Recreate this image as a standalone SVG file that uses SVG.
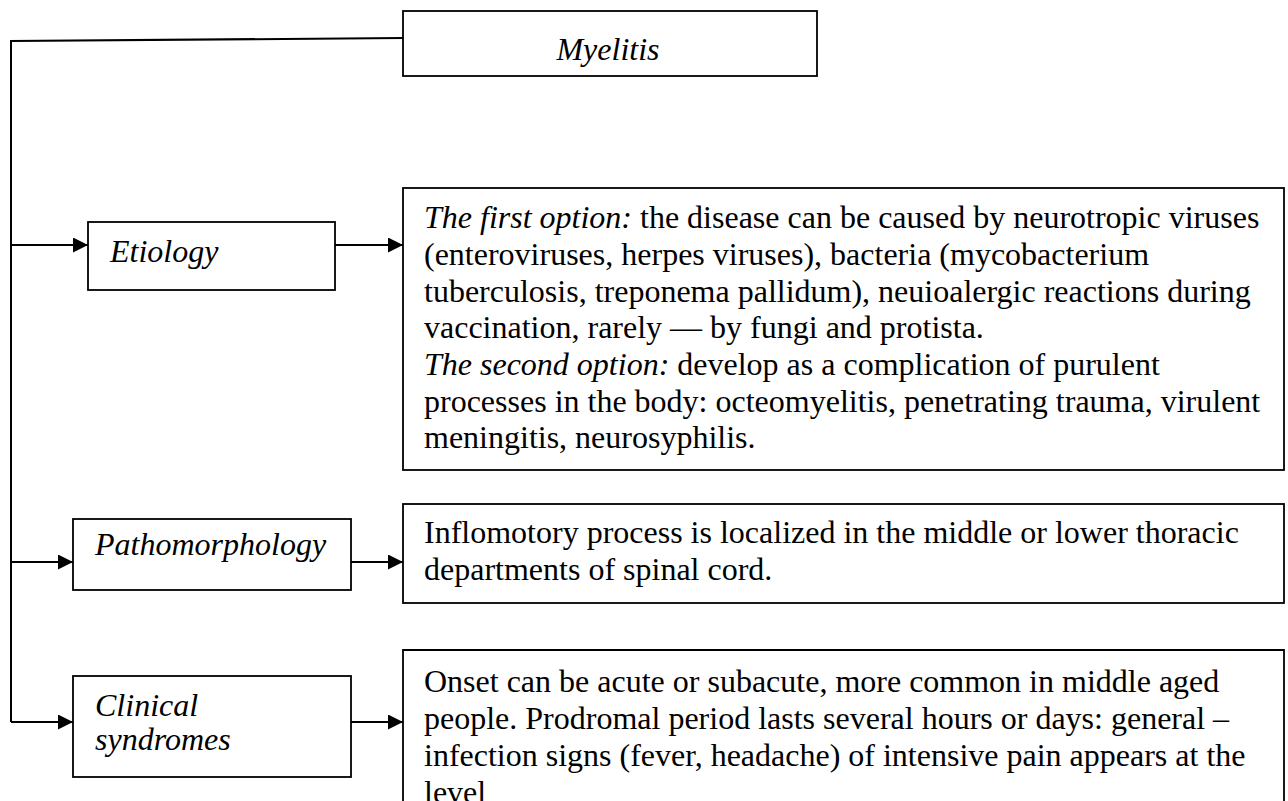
<svg xmlns="http://www.w3.org/2000/svg" width="1288" height="801" viewBox="0 0 1288 801">
  <style>
    .box { fill: #ffffff; stroke: #000000; stroke-width: 1.8; }
    .wire { fill: none; stroke: #000000; stroke-width: 2; }
    .t { font-family: "Liberation Serif", "Times New Roman", serif; font-size: 32px; fill: #000000; }
    .i { font-style: italic; }
  </style>
  <defs>
    <marker id="arrow" markerUnits="userSpaceOnUse" markerWidth="16" markerHeight="15" refX="15" refY="7.5" orient="auto">
      <path d="M0,0 L15,7.5 L0,15 Z" fill="#000000"/>
    </marker>
  </defs>

  <rect width="1288" height="801" fill="#ffffff"/>

  <!-- connectors: trunk from the root down the left margin, branches into each category and its description -->
  <g id="connectors">
    <path class="wire" d="M403,38 L11,41 L11,722"/>
    <line class="wire" x1="11" y1="245" x2="88" y2="245" marker-end="url(#arrow)"/>
    <line class="wire" x1="11" y1="562" x2="73" y2="562" marker-end="url(#arrow)"/>
    <line class="wire" x1="11" y1="722" x2="73" y2="722" marker-end="url(#arrow)"/>
    <line class="wire" x1="335" y1="245" x2="403" y2="245" marker-end="url(#arrow)"/>
    <line class="wire" x1="351" y1="562" x2="403" y2="562" marker-end="url(#arrow)"/>
    <line class="wire" x1="351" y1="722" x2="403" y2="722" marker-end="url(#arrow)"/>
  </g>

  <!-- root -->
  <g id="myelitis">
    <rect class="box" x="403" y="11" width="414" height="65"/>
    <text class="t i" x="608" y="60" text-anchor="middle">Myelitis</text>
  </g>

  <!-- categories -->
  <g id="etiology">
    <rect class="box" x="88" y="222" width="247" height="68"/>
    <text class="t i" x="110" y="262">Etiology</text>
  </g>

  <g id="pathomorphology">
    <rect class="box" x="73" y="519" width="278" height="71"/>
    <text class="t i" x="95" y="555">Pathomorphology</text>
  </g>

  <g id="clinical-syndromes">
    <rect class="box" x="73" y="676" width="278" height="101"/>
    <text class="t i" x="95" y="716">Clinical</text>
    <text class="t i" x="95" y="750">syndromes</text>
  </g>

  <!-- descriptions -->
  <g id="etiology-text">
    <rect class="box" x="403" y="188" width="881" height="282"/>
    <text class="t" x="424" y="228"><tspan class="i">The first option:</tspan> the disease can be caused by neurotropic viruses</text>
    <text class="t" x="424" y="265">(enteroviruses, herpes viruses), bacteria (mycobacterium</text>
    <text class="t" x="424" y="302">tuberculosis, treponema pallidum), neuioalergic reactions during</text>
    <text class="t" x="424" y="338">vaccination, rarely — by fungi and protista.</text>
    <text class="t" x="424" y="375"><tspan class="i">The second option:</tspan> develop as a complication of purulent</text>
    <text class="t" x="424" y="412">processes in the body: octeomyelitis, penetrating trauma, virulent</text>
    <text class="t" x="424" y="448">meningitis, neurosyphilis.</text>
  </g>

  <g id="pathomorphology-text">
    <rect class="box" x="403" y="504" width="881" height="99"/>
    <text class="t" x="424" y="543">Inflomotory process is localized in the middle or lower thoracic</text>
    <text class="t" x="424" y="580">departments of spinal cord.</text>
  </g>

  <!-- this box runs past the bottom edge, so it has no bottom side and its last line is cut -->
  <g id="clinical-text">
    <path class="box" d="M403,801 L403,650 L1284,650 L1284,801"/>
    <text class="t" x="424" y="692">Onset can be acute or subacute, more common in middle aged</text>
    <text class="t" x="424" y="729">people. Prodromal period lasts several hours or days: general –</text>
    <text class="t" x="424" y="766">infection signs (fever, headache) of intensive pain appears at the</text>
    <text class="t" x="424" y="803">level</text>
  </g>
</svg>
